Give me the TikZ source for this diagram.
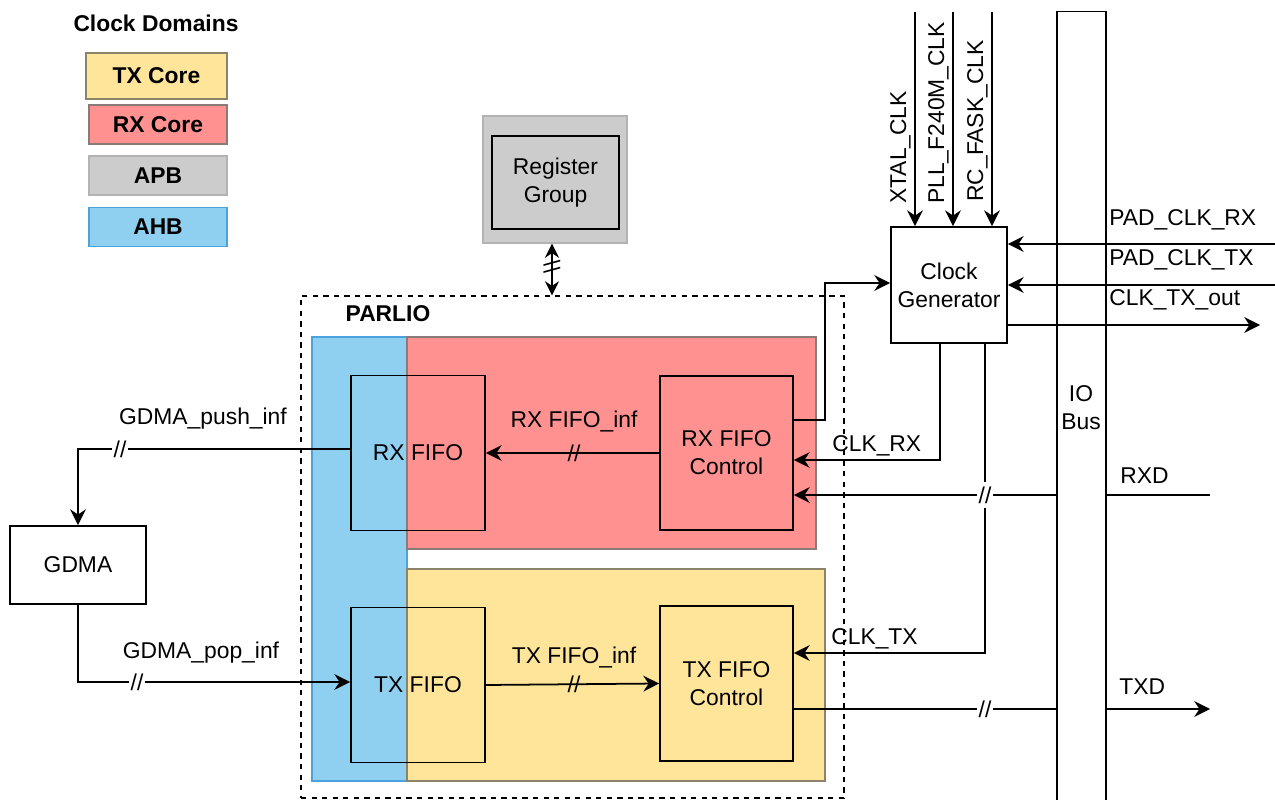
\documentclass[tikz,border=0pt]{standalone}
\usepackage{fontspec}
\setmainfont{Liberation Sans}
\usetikzlibrary{arrows.meta}

\definecolor{txcore}{HTML}{FFE599}
\definecolor{txline}{HTML}{8C846A}
\definecolor{rxcore}{HTML}{FF9191}
\definecolor{rxline}{HTML}{8A7A7A}
\definecolor{apb}{HTML}{CCCCCC}
\definecolor{apbline}{HTML}{B3B3B3}
\definecolor{ahb}{HTML}{8FCFEF}
\definecolor{ahbline}{HTML}{4AA3DF}

\begin{document}
\begin{tikzpicture}[x=0.02cm, y=-0.02cm,
  every node/.style={font=\fontsize{13}{16}\selectfont},
  legbox/.style={rectangle, font=\fontsize{13}{16}\selectfont\bfseries,
    minimum width=2.76cm, minimum height=0.78cm, line width=0.8pt},
  zone/.style={rectangle, line width=0.8pt, inner sep=0pt},
  blk/.style={rectangle, draw=black, line width=1pt, align=center, inner sep=0pt},
  lbl/.style={inner sep=0pt, anchor=base west},
  tick/.style={fill=white, inner sep=1pt},
  wire/.style={line width=1pt},
  arr/.style={line width=1pt, -{Stealth[length=9pt, width=9pt, inset=3pt]}},
  dblarr/.style={line width=1pt, {Stealth[length=8pt, width=8pt, inset=2.6pt]}-{Stealth[length=8pt, width=8pt, inset=2.6pt]}},
]
\useasboundingbox (0,0) rectangle (1275,800);

% Legend
\node[lbl, anchor=base, font=\fontsize{13}{16}\selectfont\bfseries] (legtitle) at (156,32) {Clock Domains};
\node[legbox, fill=txcore, draw=txline, minimum width=2.82cm, minimum height=0.92cm] (legtx) at (156.5,76) {TX Core};
\node[legbox, fill=rxcore, draw=rxline] (legrx) at (158,124.5) {RX Core};
\node[legbox, fill=apb, draw=apbline] (legapb) at (158,175.5) {APB};
\node[legbox, fill=ahb, draw=ahbline] (legahb) at (158,227) {AHB};

% Register group
\node[zone, fill=apb, draw=apbline, minimum width=2.88cm, minimum height=2.54cm] (regout) at (555,179.5) {};
\node[blk, fill=apb, minimum width=2.54cm, minimum height=1.86cm] (reg) at (555.5,182.5) {Register\\Group};

% PARLIO
\node[rectangle, draw, dash pattern=on 3pt off 3pt, line width=0.8pt,
  minimum width=10.86cm, minimum height=10.04cm] (parlio) at (572.5,547) {};
\node[lbl, anchor=base, font=\fontsize{13}{16}\selectfont\bfseries] (parliolbl) at (388,322) {PARLIO};

% Clock domain zones
\node[zone, fill=ahb, draw=ahbline, minimum width=1.9cm, minimum height=8.88cm] (ahbzone) at (359.5,559) {};
\node[zone, fill=rxcore, draw=rxline, minimum width=8.18cm, minimum height=4.24cm] (rxzone) at (611.5,443) {};
\node[zone, fill=txcore, draw=txline, minimum width=8.36cm, minimum height=4.24cm] (txzone) at (616,675) {};

% FIFOs and controls
\node[blk, minimum width=2.68cm, minimum height=3.1cm] (rxfifo) at (418,453) {RX FIFO};
\node[blk, minimum width=2.66cm, minimum height=3.08cm] (rxctl) at (726.5,453) {RX FIFO\\Control};
\node[blk, minimum width=2.68cm, minimum height=3.1cm] (txfifo) at (418,685) {TX FIFO};
\node[blk, minimum width=2.66cm, minimum height=3.1cm] (txctl) at (726.5,683.5) {TX FIFO\\Control};

% GDMA
\node[blk, minimum width=2.72cm, minimum height=1.56cm] (gdma) at (78,565) {GDMA};

% Clock generator
\node[blk, minimum width=2.32cm, minimum height=2.32cm] (clkgen) at (949,285) {Clock\\Generator};

% IO bus
\node[rectangle, draw, line width=1pt, minimum width=0.98cm, minimum height=16.3cm] (iobus) at (1081.5,419) {};
\node[align=center, inner sep=0pt] (iobuslbl) at (1081,408) {IO\\Bus};

% Register access
\draw[dblarr] (regout.south -| 552,0) -- (parlio.north -| 552,0);
\node[inner sep=0pt, rotate=90] (tkreg) at (552,267) {\textbackslash\textbackslash};

% Source clocks
\coordinate (xtal) at (915,12);
\coordinate (pll) at (953,12);
\coordinate (rcfast) at (992,12);
\draw[arr] (xtal) -- (xtal |- clkgen.north);
\draw[arr] (pll) -- (pll |- clkgen.north);
\draw[arr] (rcfast) -- (rcfast |- clkgen.north);
\node[lbl, rotate=90] (xtallbl) at (906,204) {XTAL\_CLK};
\node[lbl, rotate=90] (plllbl) at (944,204) {PLL\_F240M\_CLK};
\node[lbl, rotate=90] (rcfastlbl) at (983,202) {RC\_FASK\_CLK};

% Pad clocks
\coordinate (padrx) at (1275,244);
\coordinate (padtx) at (1275,285);
\coordinate (clkout) at (1260,325);
\draw[arr] (padrx) -- (clkgen.east |- padrx);
\draw[arr] (padtx) -- (clkgen.east |- padtx);
\draw[arr] (clkgen.east |- clkout) -- (clkout);
\node[lbl] (padrxlbl) at (1109,226) {PAD\_CLK\_RX};
\node[lbl] (padtxlbl) at (1109,266) {PAD\_CLK\_TX};
\node[lbl] (clkoutlbl) at (1109,306) {CLK\_TX\_out};

% RX clock select
\draw[arr] (rxctl.east |- 0,420) -| (825,283) -- (clkgen.west |- 0,283);

% Generated clocks
\draw[arr] (clkgen.south -| 940,0) |- (rxctl.east |- 0,460);
\node[lbl] (clkrxlbl) at (832,452) {CLK\_RX};
\draw[arr] (clkgen.south -| 985,0) |- (txctl.east |- 0,653);
\node[lbl] (clktxlbl) at (831,644) {CLK\_TX};

% Data pins
\coordinate (rxd) at (1210,495);
\coordinate (txd) at (1210,709);
\draw[wire] (rxd) -- (iobus.east |- rxd);
\draw[arr] (iobus.west |- rxd) -- (rxctl.east |- rxd);
\node[tick, minimum height=0.52cm] (tkrxd) at (985,495) {//};
\node[lbl] (rxdlbl) at (1120,483) {RXD};
\draw[wire] (txctl.east |- txd) -- (iobus.west |- txd);
\draw[arr] (iobus.east |- txd) -- (txd);
\node[tick] (tktxd) at (985,709) {//};
\node[lbl] (txdlbl) at (1119,694) {TXD};

% FIFO interfaces
\draw[arr] (rxctl.west) -- (rxfifo.east);
\node[inner sep=0pt] (tkrxinf) at (574,453) {//};
\node[lbl, anchor=base] (rxinflbl) at (574,428) {RX FIFO\_inf};
\draw[arr] (txfifo.east) -- (txctl.west);
\node[inner sep=0pt] (tktxinf) at (574,684) {//};
\node[lbl, anchor=base] (txinflbl) at (574,663) {TX FIFO\_inf};

% GDMA interfaces
\draw[arr] (rxfifo.west |- 0,449) -| (gdma.north);
\node[tick] (tkpush) at (120,449) {//};
\node[lbl, anchor=base] (pushlbl) at (203,425) {GDMA\_push\_inf};
\draw[arr] (gdma.south) |- (txfifo.west |- 0,682);
\node[tick] (tkpop) at (137,682) {//};
\node[lbl, anchor=base] (poplbl) at (201,658) {GDMA\_pop\_inf};

\end{tikzpicture}
\end{document}
